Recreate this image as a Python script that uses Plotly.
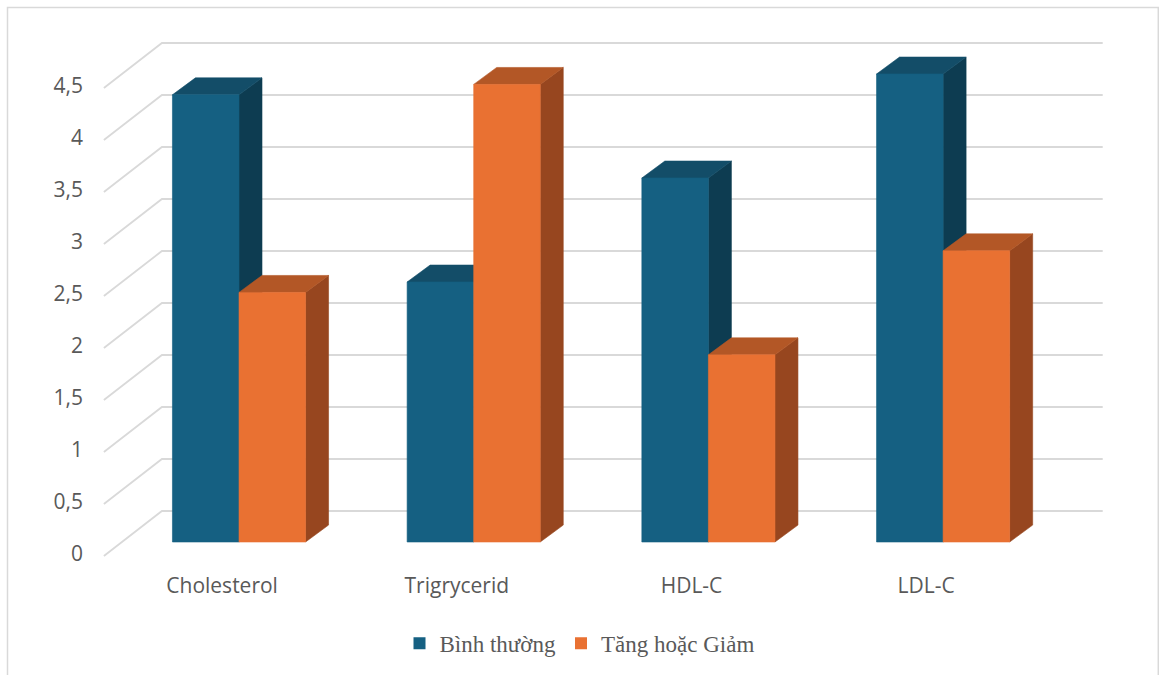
import plotly.graph_objects as go

# ---------------- data ----------------
categories = ["Cholesterol", "Trigrycerid", "HDL-C", "LDL-C"]
series_names = ["Bình thường", "Tăng hoặc Giảm"]
binh_thuong = [4.3, 2.5, 3.5, 4.5]
tang_giam = [2.4, 4.4, 1.8, 2.8]
y_tick_values = [0, 0.5, 1, 1.5, 2, 2.5, 3, 3.5, 4, 4.5]
y_tick_labels = ["0", "0,5", "1", "1,5", "2", "2,5", "3", "3,5", "4", "4,5"]

# ---------------- style / geometry ----------------
front_colors = ["#156082", "#E97132"]
top_colors = ["#134D68", "#B35726"]
side_colors = ["#0D3C51", "#97461F"]
grid_color = "#D9D9D9"
text_color = "#595959"

BAR_W = 0.2836      # front face width (category units)
DX, DY = 0.098, 0.163   # bar depth offset (x units, value units)
WALL_DY = 0.298     # back wall vertical offset
WALL_X0, WALL_X1 = -0.3284, 3.680
FLOOR_X0, FLOOR_DY = -0.5757, -0.135
LABEL_DY = -0.115
CAT_LABEL_DX = -0.072

fig = go.Figure()

# back wall grid lines + floor diagonals
gx, gy = [], []
for v in y_tick_values:
    gx += [FLOOR_X0, WALL_X0, WALL_X1, None]
    gy += [v + FLOOR_DY, v + WALL_DY, v + WALL_DY, None]
fig.add_trace(go.Scatter(x=gx, y=gy, mode="lines",
                         line=dict(color=grid_color, width=1.8),
                         hoverinfo="skip", showlegend=False))


def faces(values, offset):
    fx, fy, tx, ty, sx, sy = [], [], [], [], [], []
    for i, v in enumerate(values):
        x0 = i + offset
        x1 = x0 + BAR_W
        fx += [x0, x1, x1, x0, x0, None]
        fy += [0, 0, v, v, 0, None]
        tx += [x0, x1, x1 + DX, x0 + DX, x0, None]
        ty += [v, v, v + DY, v + DY, v, None]
        sx += [x1, x1 + DX, x1 + DX, x1, x1, None]
        sy += [0, DY, v + DY, v, 0, None]
    return (fx, fy), (tx, ty), (sx, sy)


for k, (vals, off) in enumerate([(binh_thuong, -BAR_W), (tang_giam, 0.0)]):
    (fx, fy), (tx, ty), (sx, sy) = faces(vals, off)
    for (xx, yy, col) in [(sx, sy, side_colors[k]), (tx, ty, top_colors[k]), (fx, fy, front_colors[k])]:
        fig.add_trace(go.Scatter(x=xx, y=yy, mode="lines", fill="toself",
                                 fillcolor=col, line=dict(color=col, width=0.6),
                                 hoverinfo="skip", showlegend=False))

# legend entries
for k, name in enumerate(series_names):
    fig.add_trace(go.Scatter(x=[None], y=[None], mode="markers", name=name,
                             marker=dict(symbol="square", size=12, color=front_colors[k])))

# ---------------- layout ----------------
L, R, T, B = 100, 49, 30, 115
W, H = 1159, 675
PX_X = 234.7
PX_Y = 104.0
xmin = (L - 239) / PX_X
xmax = xmin + (W - L - R) / PX_X
ymin = -(H - B - 542) / PX_Y
ymax = ymin + (H - T - B) / PX_Y

fig.update_layout(
    width=W, height=H, autosize=False,
    margin=dict(l=L, r=R, t=T, b=B),
    paper_bgcolor="white", plot_bgcolor="white",
    showlegend=True,
    legend=dict(orientation="h", xref="container", yref="container",
                x=0.5, xanchor="center", y=0.047, yanchor="middle",
                font=dict(family="Liberation Serif", size=23, color=text_color),
                itemwidth=30, bgcolor="rgba(0,0,0,0)"),
    xaxis=dict(range=[xmin, xmax], showgrid=False, zeroline=False, showline=False,
               tickmode="array",
               tickvals=[i + CAT_LABEL_DX for i in range(len(categories))],
               ticktext=categories, ticks="", ticklabelstandoff=11,
               tickfont=dict(family="Open Sans", size=21, color=text_color),
               fixedrange=True),
    yaxis=dict(range=[ymin, ymax], showgrid=False, zeroline=False, showline=False,
               tickmode="array",
               tickvals=[v + LABEL_DY for v in y_tick_values],
               ticktext=y_tick_labels, ticks="", ticklabelstandoff=16,
               tickfont=dict(family="Open Sans", size=21, color=text_color),
               fixedrange=True),
    shapes=[dict(type="rect", xref="paper", yref="paper",
                 x0=(7.5 - L) / (W - L - R), x1=(1158.3 - L) / (W - L - R),
                 y0=(H - B - 680) / (H - T - B), y1=(H - B - 7.5) / (H - T - B),
                 line=dict(color=grid_color, width=1.5), fillcolor="rgba(0,0,0,0)",
                 layer="below")],
)

fig.write_html("out.html")
